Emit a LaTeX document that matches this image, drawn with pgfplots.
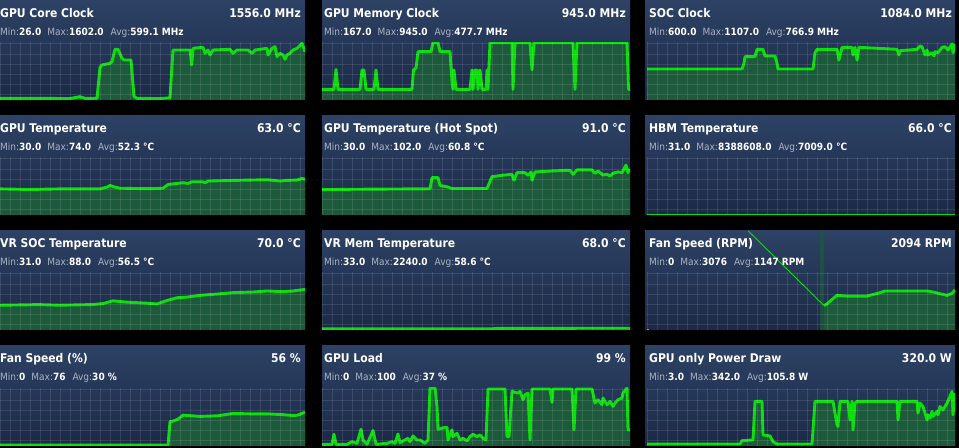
\documentclass[border=0pt]{standalone}
\usepackage{fontspec}
\setmainfont{DejaVu Sans Condensed}
\usepackage{pgfplots}
\usepackage{pgfplotstable}
\pgfplotsset{compat=1.18}
\definecolor{bgtop}{HTML}{2D4265}
\definecolor{bgbot}{HTML}{1B2946}
\definecolor{fillg}{HTML}{1D5A3C}
\definecolor{lineg}{HTML}{0ADF0A}
\definecolor{statgray}{HTML}{A9B3C2}
\newcommand\titlef{\fontsize{12bp}{14bp}\selectfont\bfseries}
\newcommand\statf{\fontsize{10bp}{12bp}\selectfont}
\newcommand\stat[2]{{\color{statgray}#1:}{\bfseries #2}}
\newcommand\stats[3]{\stat{Min}{#1}\hspace{6bp}\stat{Max}{#2}\hspace{7bp}\stat{Avg}{#3}}
% titlex, rightx, panel bottom, title, value, stats
\newcommand\ptext[6]{%
  \node[anchor=base west, inner sep=0, text=white, font=\titlef] at (#1bp,#3bp+82bp) {#4};
  \node[anchor=base east, inner sep=0, text=white, font=\titlef] at (#2bp,#3bp+82bp) {#5};
  \node[anchor=base west, inner sep=0, text=white, font=\statf] at (#1bp,#3bp+64bp) {#6};}
\newcommand\pbg[4]{\shade[top color=bgtop, bottom color=bgbot] (#1bp,#3bp) rectangle (#2bp,#3bp+#4bp);}
\pgfplotsset{
  dataax/.style={scale only axis, anchor=south west, height=58bp, xmin=0, ymin=0, hide axis},
  gridax/.style={scale only axis, anchor=south west, height=58bp, xmin=0, ymin=0, ymax=58,
     axis line style={draw=none}, major tick length=0pt, xticklabels={}, yticklabels={},
     ytick={6,16,26,36,46,57}, xtick={0,10,...,310}, grid=major,
     major grid style={draw=white, draw opacity=0.1, line width=0.8bp}},
  fillp/.style={draw=none, fill=fillg, mark=none},
  linep/.style={draw=lineg, line width=2.9bp, line join=round, mark=none},
}
\pgfplotstableread{
x y
0 46
40 46
70 40
80 92
85 46
97 46
100 900
102 967
110 1013
112 1059
115 1400
118 1400
122 1151
124 1105
131 1105
134 100
137 46
160 40
170 60
173 1381
190 1381
191.7 967
193 1427
203 1455
205 1289
208 1381
210 1243
213 1381
230 1400
233 1289
237 1381
248 1381
252 1289
255 1381
267 1427
268 1243
272 1427
275 1473
277 1197
280 1289
283 1243
285 1123
287 1243
290 1289
293 1381
297 1427
302 1565
305 1335
}\coreclk
\pgfplotstableread{
x y
0 174
12 174
14 500
16 174
38 174
40 489
42 489
44 174
52 174
54 489
56 174
90 174
91.5 489
94 520
96 787
109 787
111 935
116 935
118 787
128 787
130 300
131 174
132 489
134 174
148 174
150 489
151 174
153 489
155 489
156 174
158 489
160 174
164 174
165 489
166 174
168 935
190 935
191 174
193 935
208 935
210 489
212 935
251 935
253 174
255 935
305 935
306.5 174
308 174
}\memclk
\pgfplotstableread{
x y
0 592
95 592
97 700
98 827
108 827
110 967
116 967
118 840
128 840
130 700
131 592
166 592
168 900
170 967
190 967
192 763
195 1005
205 1005
206 859
208 1005
210 763
212 1005
250 967
252 859
253 941
270 967
273 1031
275 1018
278 859
280 954
281 859
285 903
287 840
288 922
291 903
295 1005
298 1018
301 954
305 1069
306 903
308 1069
}\socclk
\pgfplotstableread{
x y
0 45
30 44
60 45
100 45
107 48
110 50.9
115 48
120 46.2
140 45.5
153 45.5
163 46.2
168 52.6
183 55.6
188 54.4
192 57.3
203 57.3
205 55.6
208 58.5
233 59.6
267 60.8
280 58.5
287 59.6
297 60.2
302 63
305 61.5
}\gputemp
\pgfplotstableread{
x y
0 50.4
31 51
108 52
110 74
116 74
118 58.5
125 56
130 52.5
165 52.5
170 76
180 78.7
190 80.7
192 69
195 84
203 84
206 78.7
209 85.4
210 69
213 85.4
231 87.4
248 88.7
251 80.7
255 89.4
270 89.4
273 82.7
276 87.4
281 79.4
285 80.7
288 77.4
291 82.7
296 85.4
300 84
304 98.9
306 84
308 91
}\hotspot
\pgfplotstableread{
x y
0 66
308 66
}\hbm
\pgfplotstableread{
x y
0 42.7
30 43.5
37 43.9
60 42.7
93 43.9
103 45.6
113 50.3
127 48
147 46.2
157 45
167 50.9
177 55.6
187 56.7
200 59.7
217 62
233 64.4
253 65.5
267 67.3
283 66.1
293 67.3
305 70
}\vrsoc
\pgfplotstableread{
x y
0 45
170 45
175 62
308 68
}\vrmem
\pgfplotstableread{
x y
177 1295
180 1385
185 1619
190 1835
200 1799
220 1799
233 1979
238 2069
260 2069
280 2069
286 2015
293 1925
300 1835
305 1943
308 2123
}\fanrpm
\pgfplotstableread{
x y
0 1.5
168 1.5
170 42
173 43
178 46.2
183 53.2
200 51
217 52
233 56
250 55.5
267 55.5
283 54
293 52.6
298 53.2
305 58.4
}\fanpct
\pgfplotstableread{
x y
0 2.9
10 2.9
12 20.2
14 2.9
25 2.9
30 7.5
35 4.6
39 28.9
41 10.4
45 2.9
51 26.6
54 2.9
65 4.6
70 7.5
73 4.6
76 20.8
78 5.8
83 10.4
86 13.3
88 7.5
91 17.3
95 10.4
98 10.4
103 4.6
106 10.4
108 100
113 100
115 68.2
116 28.9
120 30.6
123 32.4
125 32.4
126 10.4
130 27.7
131 16.2
135 22
138 10.4
141 13.3
145 8.7
148 16.2
151 20.2
155 16.2
158 19.1
161 13.3
164 10.4
166 98.3
183 98.3
185 16.2
187 16.2
190 94.2
193 92.5
196 91.3
198 94.2
201 79.8
203 88.4
206 91.3
208 10.4
210 98.3
228 98.3
230 75.1
231 98.3
250 98.3
252 27.7
254 98.3
270 98.3
273 74
276 79.8
280 71.1
281 82.7
285 71.1
288 76.9
291 68.2
293 74
296 79.8
300 82.7
301 91.3
305 100
306 27.7
308 27.7
}\gpuload
\pgfplotstableread{
x y
0 11.9
93 11.9
95 31.6
106 35.6
108 263
115 263
116 65
123 59.3
126 25.7
130 11.9
165 11.9
168 263
186 263
190 124.6
191 114.7
193 263
201 263
203 154
205 263
206 95
208 253
210 263
250 263
251 154
253 263
270 263
271 194
273 253
276 233
280 154
281 184
283 164
285 204
286 174
290 204
291 184
293 233
296 213
300 253
303 292
305 322
306 184
308 312
}\power
\begin{document}
\begin{tikzpicture}
\fill[black] (0bp,0bp) rectangle (959bp,448bp);
\useasboundingbox (0bp,0bp) rectangle (959bp,448bp);
% backgrounds
\pbg{0}{305}{348}{99}\pbg{322}{630}{348}{99}\pbg{645}{955}{348}{99}
\pbg{0}{305}{233}{99}\pbg{322}{630}{233}{99}\pbg{645}{955}{233}{99}
\pbg{0}{305}{118}{99}\pbg{322}{630}{118}{99}\pbg{645}{955}{118}{99}
\pbg{0}{305}{2}{100}\pbg{322}{630}{2}{100}\pbg{645}{955}{2}{100}
% ---------- row 1
\begin{axis}[dataax, at={(0bp,348bp)}, width=305bp, xmax=305, ymax=1602]
\addplot[fillp] table {\coreclk} \closedcycle;
\addplot[linep] table {\coreclk};
\end{axis}
\begin{axis}[gridax, at={(0bp,348bp)}, width=305bp, xmax=305]\end{axis}
\begin{axis}[dataax, at={(322bp,348bp)}, width=308bp, xmax=308, ymax=945]
\addplot[fillp] table {\memclk} \closedcycle;
\addplot[linep] table {\memclk};
\end{axis}
\begin{axis}[gridax, at={(322bp,348bp)}, width=308bp, xmax=308]\end{axis}
\begin{axis}[dataax, at={(647bp,348bp)}, width=308bp, xmax=308, ymax=1107]
\addplot[fillp] table {\socclk} \closedcycle;
\addplot[linep] table {\socclk};
\end{axis}
\begin{axis}[gridax, at={(647bp,348bp)}, width=308bp, xmax=308]\end{axis}
% ---------- row 2
\begin{axis}[dataax, at={(0bp,233bp)}, width=305bp, xmax=305, ymax=100]
\addplot[fillp] table {\gputemp} \closedcycle;
\addplot[linep] table {\gputemp};
\end{axis}
\begin{axis}[gridax, at={(0bp,233bp)}, width=305bp, xmax=305]\end{axis}
\begin{axis}[dataax, at={(322bp,233bp)}, width=308bp, xmax=308, ymax=115]
\addplot[fillp] table {\hotspot} \closedcycle;
\addplot[linep] table {\hotspot};
\end{axis}
\begin{axis}[gridax, at={(322bp,233bp)}, width=308bp, xmax=308]\end{axis}
\begin{axis}[dataax, at={(647bp,233bp)}, width=308bp, xmax=308, ymax=8388608]
\addplot[fillp] table {\hbm} \closedcycle;
\addplot[linep] table {\hbm};
\end{axis}
\begin{axis}[gridax, at={(647bp,233bp)}, width=308bp, xmax=308]\end{axis}
% ---------- row 3
\begin{axis}[dataax, at={(0bp,118bp)}, width=305bp, xmax=305, ymax=100]
\addplot[fillp] table {\vrsoc} \closedcycle;
\addplot[linep] table {\vrsoc};
\end{axis}
\begin{axis}[gridax, at={(0bp,118bp)}, width=305bp, xmax=305]\end{axis}
\begin{axis}[dataax, at={(322bp,118bp)}, width=308bp, xmax=308, ymax=2240]
\addplot[fillp] table {\vrmem} \closedcycle;
\addplot[linep] table {\vrmem};
\end{axis}
\begin{axis}[gridax, at={(322bp,118bp)}, width=308bp, xmax=308]\end{axis}
\begin{axis}[dataax, at={(647bp,118bp)}, width=308bp, height=99bp, xmax=308, ymax=5250]
\addplot[draw=none, fill=fillg, fill opacity=0.75, mark=none] coordinates {(173,0) (173,5250) (177,5250) (177,0)} \closedcycle;
\addplot[fillp] table {\fanrpm} \closedcycle;
\addplot[linep] table {\fanrpm};
\addplot[draw=lineg, line width=0.9bp, mark=none] coordinates {(101.3,5250) (177,1295)};
\addplot[linep] coordinates {(0,0) (1.5,0)};
\end{axis}
\begin{axis}[gridax, at={(647bp,118bp)}, width=308bp, xmax=308]\end{axis}
% ---------- row 4
\begin{axis}[dataax, at={(0bp,2bp)}, width=305bp, xmax=305, ymax=100]
\addplot[fillp] table {\fanpct} \closedcycle;
\addplot[linep] table {\fanpct};
\end{axis}
\begin{axis}[gridax, at={(0bp,2bp)}, width=305bp, xmax=305]\end{axis}
\begin{axis}[dataax, at={(322bp,2bp)}, width=308bp, xmax=308, ymax=100]
\addplot[fillp] table {\gpuload} \closedcycle;
\addplot[linep] table {\gpuload};
\end{axis}
\begin{axis}[gridax, at={(322bp,2bp)}, width=308bp, xmax=308]\end{axis}
\begin{axis}[dataax, at={(647bp,2bp)}, width=308bp, xmax=308, ymax=342]
\addplot[fillp] table {\power} \closedcycle;
\addplot[linep] table {\power};
\end{axis}
\begin{axis}[gridax, at={(647bp,2bp)}, width=308bp, xmax=308]\end{axis}
% ---------- texts
\ptext{0}{301}{348}{GPU Core Clock}{1556.0 MHz}{\stats{26.0}{1602.0}{599.1 MHz}}
\ptext{324}{626}{348}{GPU Memory Clock}{945.0 MHz}{\stats{167.0}{945.0}{477.7 MHz}}
\ptext{649}{952}{348}{SOC Clock}{1084.0 MHz}{\stats{600.0}{1107.0}{766.9 MHz}}
\ptext{0}{301}{233}{GPU Temperature}{63.0 °C}{\stats{30.0}{74.0}{52.3 °C}}
\ptext{324}{626}{233}{GPU Temperature (Hot Spot)}{91.0 °C}{\stats{30.0}{102.0}{60.8 °C}}
\ptext{649}{952}{233}{HBM Temperature}{66.0 °C}{\stats{31.0}{8388608.0}{7009.0 °C}}
\ptext{0}{301}{118}{VR SOC Temperature}{70.0 °C}{\stats{31.0}{88.0}{56.5 °C}}
\ptext{324}{626}{118}{VR Mem Temperature}{68.0 °C}{\stats{33.0}{2240.0}{58.6 °C}}
\ptext{649}{952}{118}{Fan Speed (RPM)}{2094 RPM}{\stats{0}{3076}{1147 RPM}}
\ptext{0}{301}{3}{Fan Speed (\%)}{56 \%}{\stats{0}{76}{30 \%}}
\ptext{324}{626}{3}{GPU Load}{99 \%}{\stats{0}{100}{37 \%}}
\ptext{649}{952}{3}{GPU only Power Draw}{320.0 W}{\stats{3.0}{342.0}{105.8 W}}
\end{tikzpicture}
\end{document}
